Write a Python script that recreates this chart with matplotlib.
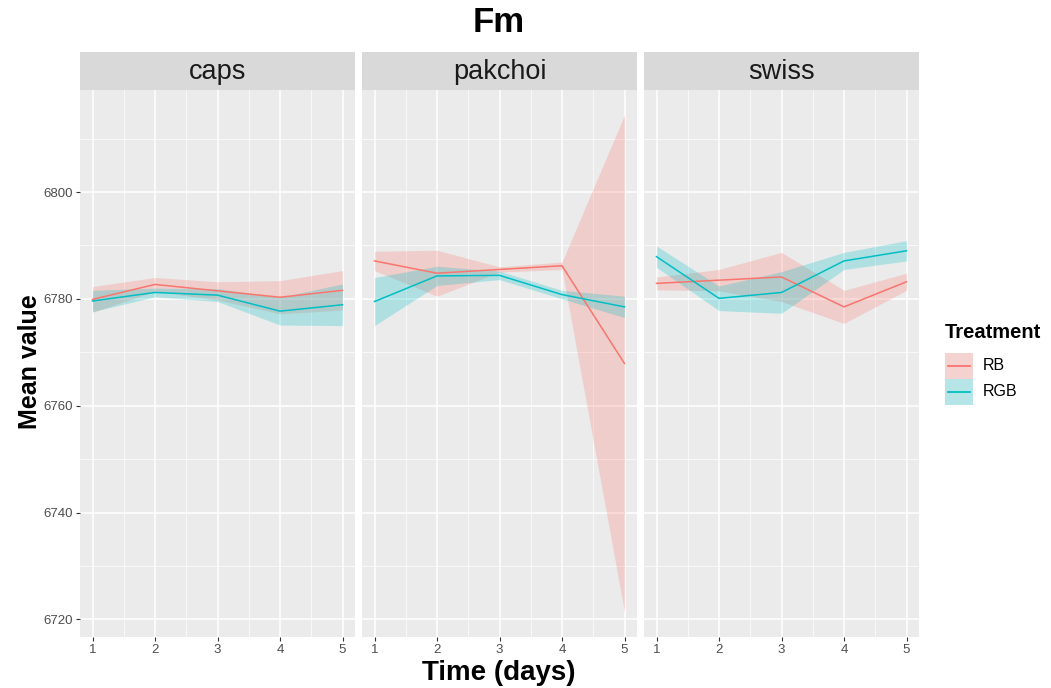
import matplotlib
matplotlib.use("Agg")
import matplotlib.pyplot as plt
from matplotlib.patches import Rectangle
from matplotlib.lines import Line2D
import numpy as np

plt.rcParams["font.family"] = ["Liberation Sans", "DejaVu Sans"]

# data (mean and half-width of ribbon)
days = [1, 2, 3, 4, 5]
species = ["caps", "pakchoi", "swiss"]
treatments = ["RB", "RGB"]

caps_rb = [6779.9, 6782.7, 6781.5, 6780.3, 6781.6]
caps_rb_se = [2.4, 1.3, 1.7, 3.1, 3.7]
caps_rgb = [6779.6, 6781.2, 6780.7, 6777.7, 6778.9]
caps_rgb_se = [2.0, 0.8, 1.2, 2.6, 3.9]

pak_rb = [6787.1, 6784.8, 6785.5, 6786.2, 6767.9]
pak_rb_se = [1.8, 4.3, 0.5, 0.7, 46.5]
pak_rgb = [6779.5, 6784.3, 6784.4, 6780.8, 6778.5]
pak_rgb_se = [4.5, 1.8, 0.8, 0.8, 2.0]

swiss_rb = [6782.9, 6783.5, 6784.1, 6778.5, 6783.2]
swiss_rb_se = [1.2, 2.0, 4.6, 3.1, 1.6]
swiss_rgb = [6787.9, 6780.1, 6781.2, 6787.1, 6789.0]
swiss_rgb_se = [2.0, 2.3, 3.9, 1.6, 1.9]

means = {
    "caps": {"RB": (caps_rb, caps_rb_se), "RGB": (caps_rgb, caps_rgb_se)},
    "pakchoi": {"RB": (pak_rb, pak_rb_se), "RGB": (pak_rgb, pak_rgb_se)},
    "swiss": {"RB": (swiss_rb, swiss_rb_se), "RGB": (swiss_rgb, swiss_rgb_se)},
}
colors = {"RB": "#F8766D", "RGB": "#00BFC4"}

W, H = 1051, 688
fig = plt.figure(figsize=(W / 100, H / 100), dpi=100)

lefts = [80, 362, 644]
pw = 275
bottom_px, top_px = 637, 90
strip_top = 52

for i, sp in enumerate(species):
    ax = fig.add_axes([lefts[i] / W, 1 - bottom_px / H, pw / W, (bottom_px - top_px) / H])
    ax.set_facecolor("#EBEBEB")
    for tr in treatments:
        m, se = means[sp][tr]
        m = np.array(m)
        se = np.array(se)
        ax.fill_between(days, m - se, m + se, color=colors[tr], alpha=0.25, lw=0, zorder=2)
        ax.plot(days, m, color=colors[tr], lw=1.1, zorder=3)
    ax.set_xlim(0.8, 5.2)
    ax.set_ylim(6716.7, 6819.1)
    ax.set_xticks(days)
    ax.set_xticks([1.5, 2.5, 3.5, 4.5], minor=True)
    ax.set_yticks([6720, 6740, 6760, 6780, 6800])
    ax.set_yticks([6730, 6750, 6770, 6790, 6810], minor=True)
    ax.grid(True, which="major", color="white", lw=1.1, zorder=0)
    ax.grid(True, which="minor", color="white", lw=0.5, zorder=0)
    ax.set_axisbelow(True)
    for s in ax.spines.values():
        s.set_visible(False)
    ax.tick_params(which="major", length=3, color="#333333", labelsize=9.5, labelcolor="#4D4D4D", pad=2)
    ax.tick_params(which="minor", length=0)
    if i > 0:
        ax.tick_params(axis="y", which="major", length=0, labelleft=False)

    # facet strip
    sax = fig.add_axes([lefts[i] / W, 1 - top_px / H, pw / W, (top_px - strip_top) / H])
    sax.set_facecolor("#D9D9D9")
    sax.set_xticks([])
    sax.set_yticks([])
    for s in sax.spines.values():
        s.set_visible(False)
    sax.text(0.5, 0.47, sp, ha="center", va="center", fontsize=19.5, color="#1A1A1A",
             transform=sax.transAxes)

fig.text(499 / W, 1 - 22 / H, "Fm", ha="center", va="center", fontsize=25, fontweight="bold")
fig.text(499 / W, 1 - 673 / H, "Time (days)", ha="center", va="center", fontsize=20, fontweight="bold")
fig.text(30 / W, 1 - 362 / H, "Mean value", ha="center", va="center", rotation=90,
         fontsize=18, fontweight="bold")

# legend drawn by hand (ggplot style keys: ribbon fill + line)
fig.text(945 / W, 1 - 332 / H, "Treatment", ha="left", va="center", fontsize=14.5, fontweight="bold")
key_w, key_h = 28, 26
for j, tr in enumerate(treatments):
    top = 353 + j * key_h
    x0, y0 = 945 / W, 1 - (top + key_h) / H
    fig.add_artist(Rectangle((x0, y0), key_w / W, key_h / H, transform=fig.transFigure,
                             facecolor="#F2F2F2", lw=0))
    fig.add_artist(Rectangle((x0, y0), key_w / W, key_h / H, transform=fig.transFigure,
                             facecolor=colors[tr], alpha=0.25, lw=0))
    yc = 1 - (top + key_h / 2) / H
    fig.add_artist(Line2D([948 / W, 970 / W], [yc, yc], transform=fig.transFigure,
                          color=colors[tr], lw=1.3))
    fig.text(983 / W, yc, tr, ha="left", va="center", fontsize=11.5)

fig.savefig("out.png", dpi=100)
